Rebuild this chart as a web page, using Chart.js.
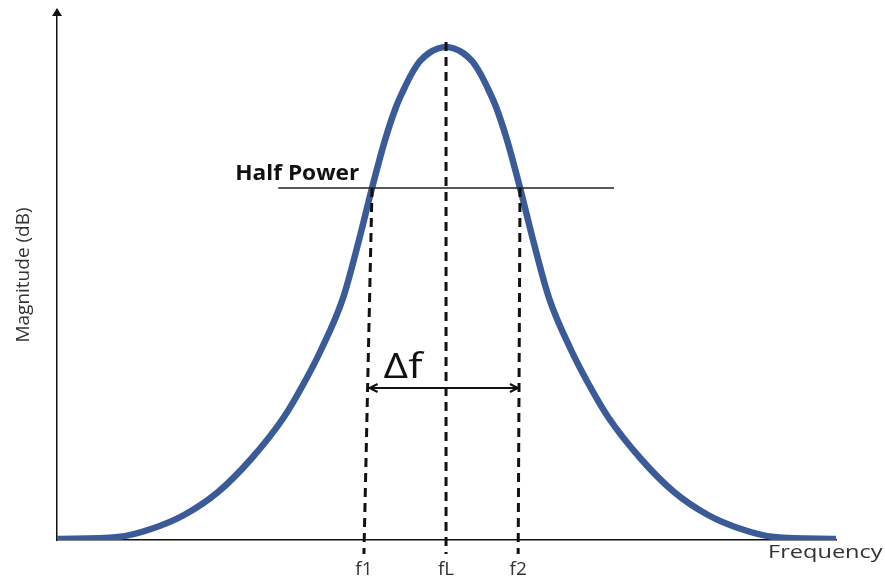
<!DOCTYPE html>
<html>
<head>
<meta charset="utf-8">
<title>Bandwidth</title>
<script src="https://cdn.jsdelivr.net/npm/chart.js@4.4.1/dist/chart.umd.min.js"></script>
<style>
  html, body { margin: 0; padding: 0; background: #fff; }
  canvas { display: block; }
</style>
</head>
<body>
<canvas id="response-chart" width="885" height="581"></canvas>
<script>
// response curve (frequency 0-100, magnitude 0-106)
const curveFreq = [0, 7.83, 12.07, 16.31, 20.67, 24.91, 29.14, 31.71, 33.89, 36.72, 38.77, 40.44, 42.11, 43.52,
    44.42, 45.58, 46.60, 47.76, 48.91, 49.94, 50.97, 52.12, 53.28, 54.30, 55.46, 56.36, 57.77, 59.44, 61.11,
    63.16, 65.99, 68.17, 70.74, 74.97, 79.21, 83.57, 87.81, 92.05, 100];
const curveMag = [0.2, 0.6, 2.2, 5, 9.6, 16.2, 24.6, 31.4, 38, 48.4, 60, 70.4, 80, 86.6,
    89.8, 93.4, 95.8, 97.4, 98.3, 98.6, 98.3, 97.4, 95.8, 93.4, 89.8, 86.6, 80, 70.4, 60,
    48.4, 38, 31.4, 24.6, 16.2, 9.6, 5, 2.2, 0.6, 0.2];

// half power level and the span of its line
const halfPower = 70.4;
const halfPowerSpan = [28.4, 71.5];

// f1, fL, f2 markers
const markerLabels = ['f1', 'fL', 'f2'];
const markerFreqTop = [40.44, 49.94, 59.44];
const markerFreqBottom = [39.4, 49.94, 59.2];
const markerMagTop = [70.4, 99.6, 70.4];
const markerMagBottom = -2.8;

// bandwidth arrow
const deltaLevel = 30.4;
const bandSpan = [40.0, 59.3];

const datasets = [];

markerLabels.forEach((label, i) => {
    datasets.push({
        label: label,
        data: [
            { x: markerFreqTop[i], y: markerMagTop[i] },
            { x: markerFreqBottom[i], y: markerMagBottom }
        ],
        borderColor: '#111',
        borderWidth: 3,
        borderDash: [9, 6],
        pointRadius: 0,
        clip: false,
        order: 0
    });
});

datasets.push({
    label: 'half power',
    data: halfPowerSpan.map(f => ({ x: f, y: halfPower })),
    borderColor: '#222',
    borderWidth: 1.5,
    pointRadius: 0,
    order: 0
});

datasets.push({
    label: 'bandwidth',
    data: bandSpan.map(f => ({ x: f, y: deltaLevel })),
    borderColor: '#111',
    borderWidth: 2,
    pointRadius: 0,
    order: 0
});

datasets.push({
    label: 'response',
    data: curveFreq.map((f, i) => ({ x: f, y: curveMag[i] })),
    borderColor: '#3b5b98',
    borderWidth: 6.5,
    pointRadius: 0,
    cubicInterpolationMode: 'monotone',
    borderCapStyle: 'butt',
    order: 1
});

// text drawn a little wider than the font
const wideText = function (ctx, text, x, y, stretch) {
    ctx.save();
    ctx.translate(x, y);
    ctx.scale(stretch, 1);
    ctx.fillText(text, 0, 0);
    ctx.restore();
};

const annotations = {
    id: 'annotations',
    afterDraw(chart) {
        const { ctx, chartArea, scales: { x, y } } = chart;
        ctx.save();

        // arrow head on top of the magnitude axis
        ctx.fillStyle = '#111';
        ctx.beginPath();
        ctx.moveTo(chartArea.left, chartArea.top - 2);
        ctx.lineTo(chartArea.left - 5, chartArea.top + 6);
        ctx.lineTo(chartArea.left + 5, chartArea.top + 6);
        ctx.closePath();
        ctx.fill();

        // arrow heads for the bandwidth
        const ay = y.getPixelForValue(deltaLevel);
        const ax1 = x.getPixelForValue(bandSpan[0]);
        const ax2 = x.getPixelForValue(bandSpan[1]);
        ctx.strokeStyle = '#111';
        ctx.lineWidth = 2;
        ctx.beginPath();
        ctx.moveTo(ax1 + 9, ay - 4);
        ctx.lineTo(ax1 + 1, ay);
        ctx.lineTo(ax1 + 9, ay + 4);
        ctx.moveTo(ax2 - 9, ay - 4);
        ctx.lineTo(ax2 - 1, ay);
        ctx.lineTo(ax2 - 9, ay + 4);
        ctx.stroke();

        ctx.textBaseline = 'alphabetic';
        ctx.textAlign = 'left';

        ctx.fillStyle = '#111';
        ctx.font = '34px "Open Sans"';
        wideText(ctx, 'Δf', ax1 + 15, ay - 10, 1.25);

        ctx.font = 'bold 21px "Open Sans"';
        wideText(ctx, 'Half Power', x.getPixelForValue(halfPowerSpan[0]) - 43, y.getPixelForValue(halfPower) - 8, 1.08);

        ctx.fillStyle = '#333';
        ctx.font = '19px "Open Sans"';
        wideText(ctx, 'Frequency', chartArea.right - 68, chartArea.bottom + 18, 1.24);

        ctx.restore();
    }
};

const chart = new Chart(document.getElementById('response-chart'), {
    type: 'line',
    data: { datasets: datasets },
    plugins: [annotations],
    options: {
        responsive: false,
        animation: false,
        layout: { padding: { top: 10, right: 49, left: 0, bottom: 0 } },
        scales: {
            x: {
                type: 'linear',
                min: 0,
                max: 100,
                grid: { display: false, drawTicks: false },
                border: { display: true, color: '#111', width: 1.5 },
                afterBuildTicks: (axis) => { axis.ticks = markerFreqBottom.map(v => ({ value: v })); },
                afterFit: (axis) => { axis.height = 41; },
                ticks: {
                    autoSkip: false,
                    maxRotation: 0,
                    padding: 18,
                    color: '#333',
                    font: { family: 'Open Sans', size: 19 },
                    callback: (value, index) => markerLabels[index]
                }
            },
            y: {
                min: 0,
                max: 106,
                grid: { display: false, drawTicks: false },
                border: { display: true, color: '#111', width: 1.5 },
                ticks: { display: false },
                afterFit: (axis) => { axis.width = 57; },
                title: {
                    display: true,
                    text: 'Magnitude (dB)',
                    color: '#333',
                    font: { family: 'Open Sans', size: 19 },
                    padding: { top: 12, bottom: 0 }
                }
            }
        },
        plugins: {
            legend: { display: false },
            tooltip: { enabled: false }
        }
    }
});
</script>
</body>
</html>
